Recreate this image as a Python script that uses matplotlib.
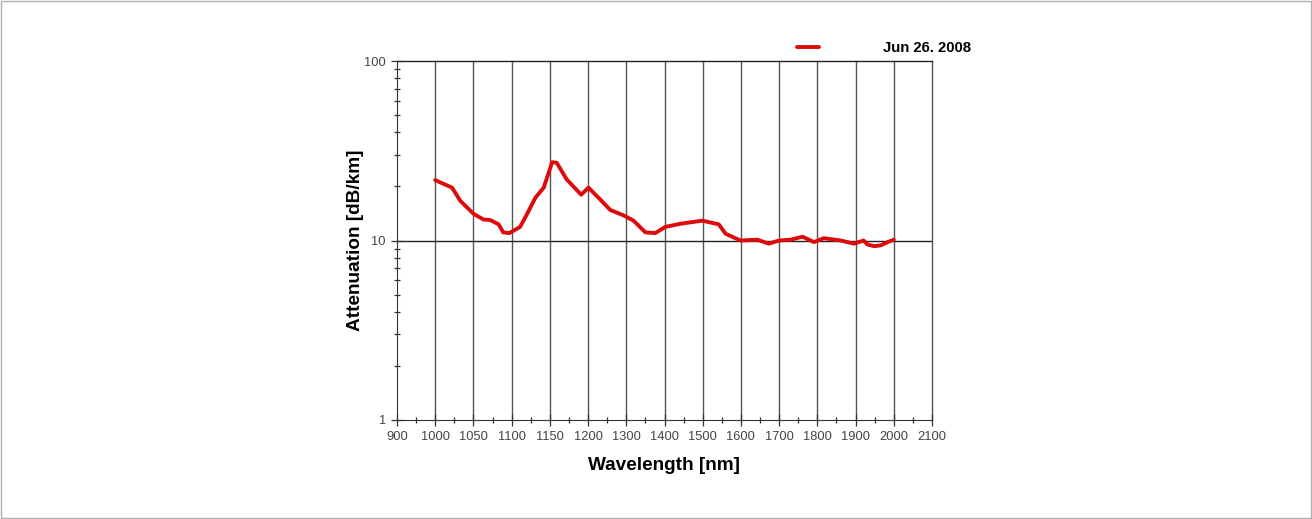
import numpy as np
import matplotlib
matplotlib.use("Agg")
import matplotlib.pyplot as plt
from matplotlib.ticker import FixedLocator, NullFormatter, LogLocator
from matplotlib.patches import Rectangle

# valores das marcas do eixo x (espaçadas igualmente no gráfico original)
rotulos_x = [900, 1000, 1050, 1100, 1150, 1200, 1300, 1400, 1500,
             1600, 1700, 1800, 1900, 2000, 2100]

# curva de atenuação
comprimento_onda = [1000, 1022, 1033, 1050, 1063, 1072, 1083, 1089, 1097,
                    1111, 1120, 1131, 1142, 1153, 1159, 1172, 1191, 1201,
                    1232, 1258, 1293, 1319, 1350, 1376, 1402, 1442, 1499,
                    1542, 1560, 1599, 1643, 1673, 1700, 1730, 1761, 1791,
                    1817, 1861, 1896, 1921, 1931, 1949, 1966, 1984, 2000]
atenuacao = [21.7, 19.7, 16.6, 14.1, 13.1, 13.0, 12.3, 11.1, 11.0,
             11.9, 14.0, 17.3, 19.7, 27.3, 27.1, 21.9, 18.0, 19.7,
             16.9, 14.8, 13.8, 12.9, 11.1, 11.0, 11.9, 12.4, 12.9,
             12.3, 10.9, 10.0, 10.1, 9.6, 10.0, 10.1, 10.5, 9.8,
             10.3, 10.0, 9.6, 10.0, 9.5, 9.3, 9.4, 9.8, 10.1]
legenda = "Jun 26. 2008"

indices = np.arange(len(rotulos_x))
pos = np.interp(comprimento_onda, rotulos_x, indices)

fig = plt.figure(figsize=(13.12, 5.19), dpi=100)
plt.rcParams['font.family'] = ['Liberation Sans', 'DejaVu Sans']
ax = fig.add_axes([397/1312, 1 - 420/519, 535/1312, 359/519])

ax.plot(pos, atenuacao, color="#dd0b0b", lw=2.8, solid_capstyle="round",
        solid_joinstyle="round", label=legenda, zorder=3)

ax.set_yscale("log")
ax.set_ylim(1, 100)
ax.set_xlim(0, len(rotulos_x) - 1)

ax.set_xticks(indices)
ax.set_xticklabels([str(v) for v in rotulos_x])
ax.xaxis.set_minor_locator(FixedLocator(indices[:-1] + 0.5))
ax.yaxis.set_major_locator(FixedLocator([1, 10, 100]))
ax.set_yticklabels(["1", "10", "100"])
ax.yaxis.set_minor_locator(LogLocator(base=10, subs=np.arange(2, 10)))
ax.yaxis.set_minor_formatter(NullFormatter())

ax.tick_params(which="major", direction="inout", length=8, width=0.9,
               labelsize=9.3, labelcolor="#444444", color="#333333", pad=4)
ax.tick_params(which="minor", direction="inout", length=5, width=0.9,
               color="#333333")

for i in indices[1:]:
    ax.axvline(i, color="#555555", lw=1.0, zorder=1, clip_on=False)
ax.axhline(10, color="#222222", lw=1.0, zorder=1)
ax.axhline(100, color="#222222", lw=1.0, zorder=1, clip_on=False)

for s in ["top", "right"]:
    ax.spines[s].set_visible(False)
ax.spines["left"].set_color("#333333")
ax.spines["bottom"].set_color("#333333")

ax.set_xlabel("Wavelength [nm]", fontsize=13.7, fontweight="bold", labelpad=10)
ax.set_ylabel("Attenuation [dB/km]", fontsize=13.7, fontweight="bold", labelpad=0)

fig.legend(loc="center left", bbox_to_anchor=(797/1312, 1 - 48/519),
           frameon=False, handlelength=1.5, handletextpad=4.3,
           borderpad=0, borderaxespad=0, prop={"weight": "bold", "size": 10.7})

fig.patches.append(Rectangle((0.001, 0.002), 0.998, 0.996, transform=fig.transFigure,
                             fill=False, edgecolor="#b0b0b0", lw=1))

fig.savefig("out.png", dpi=100)
